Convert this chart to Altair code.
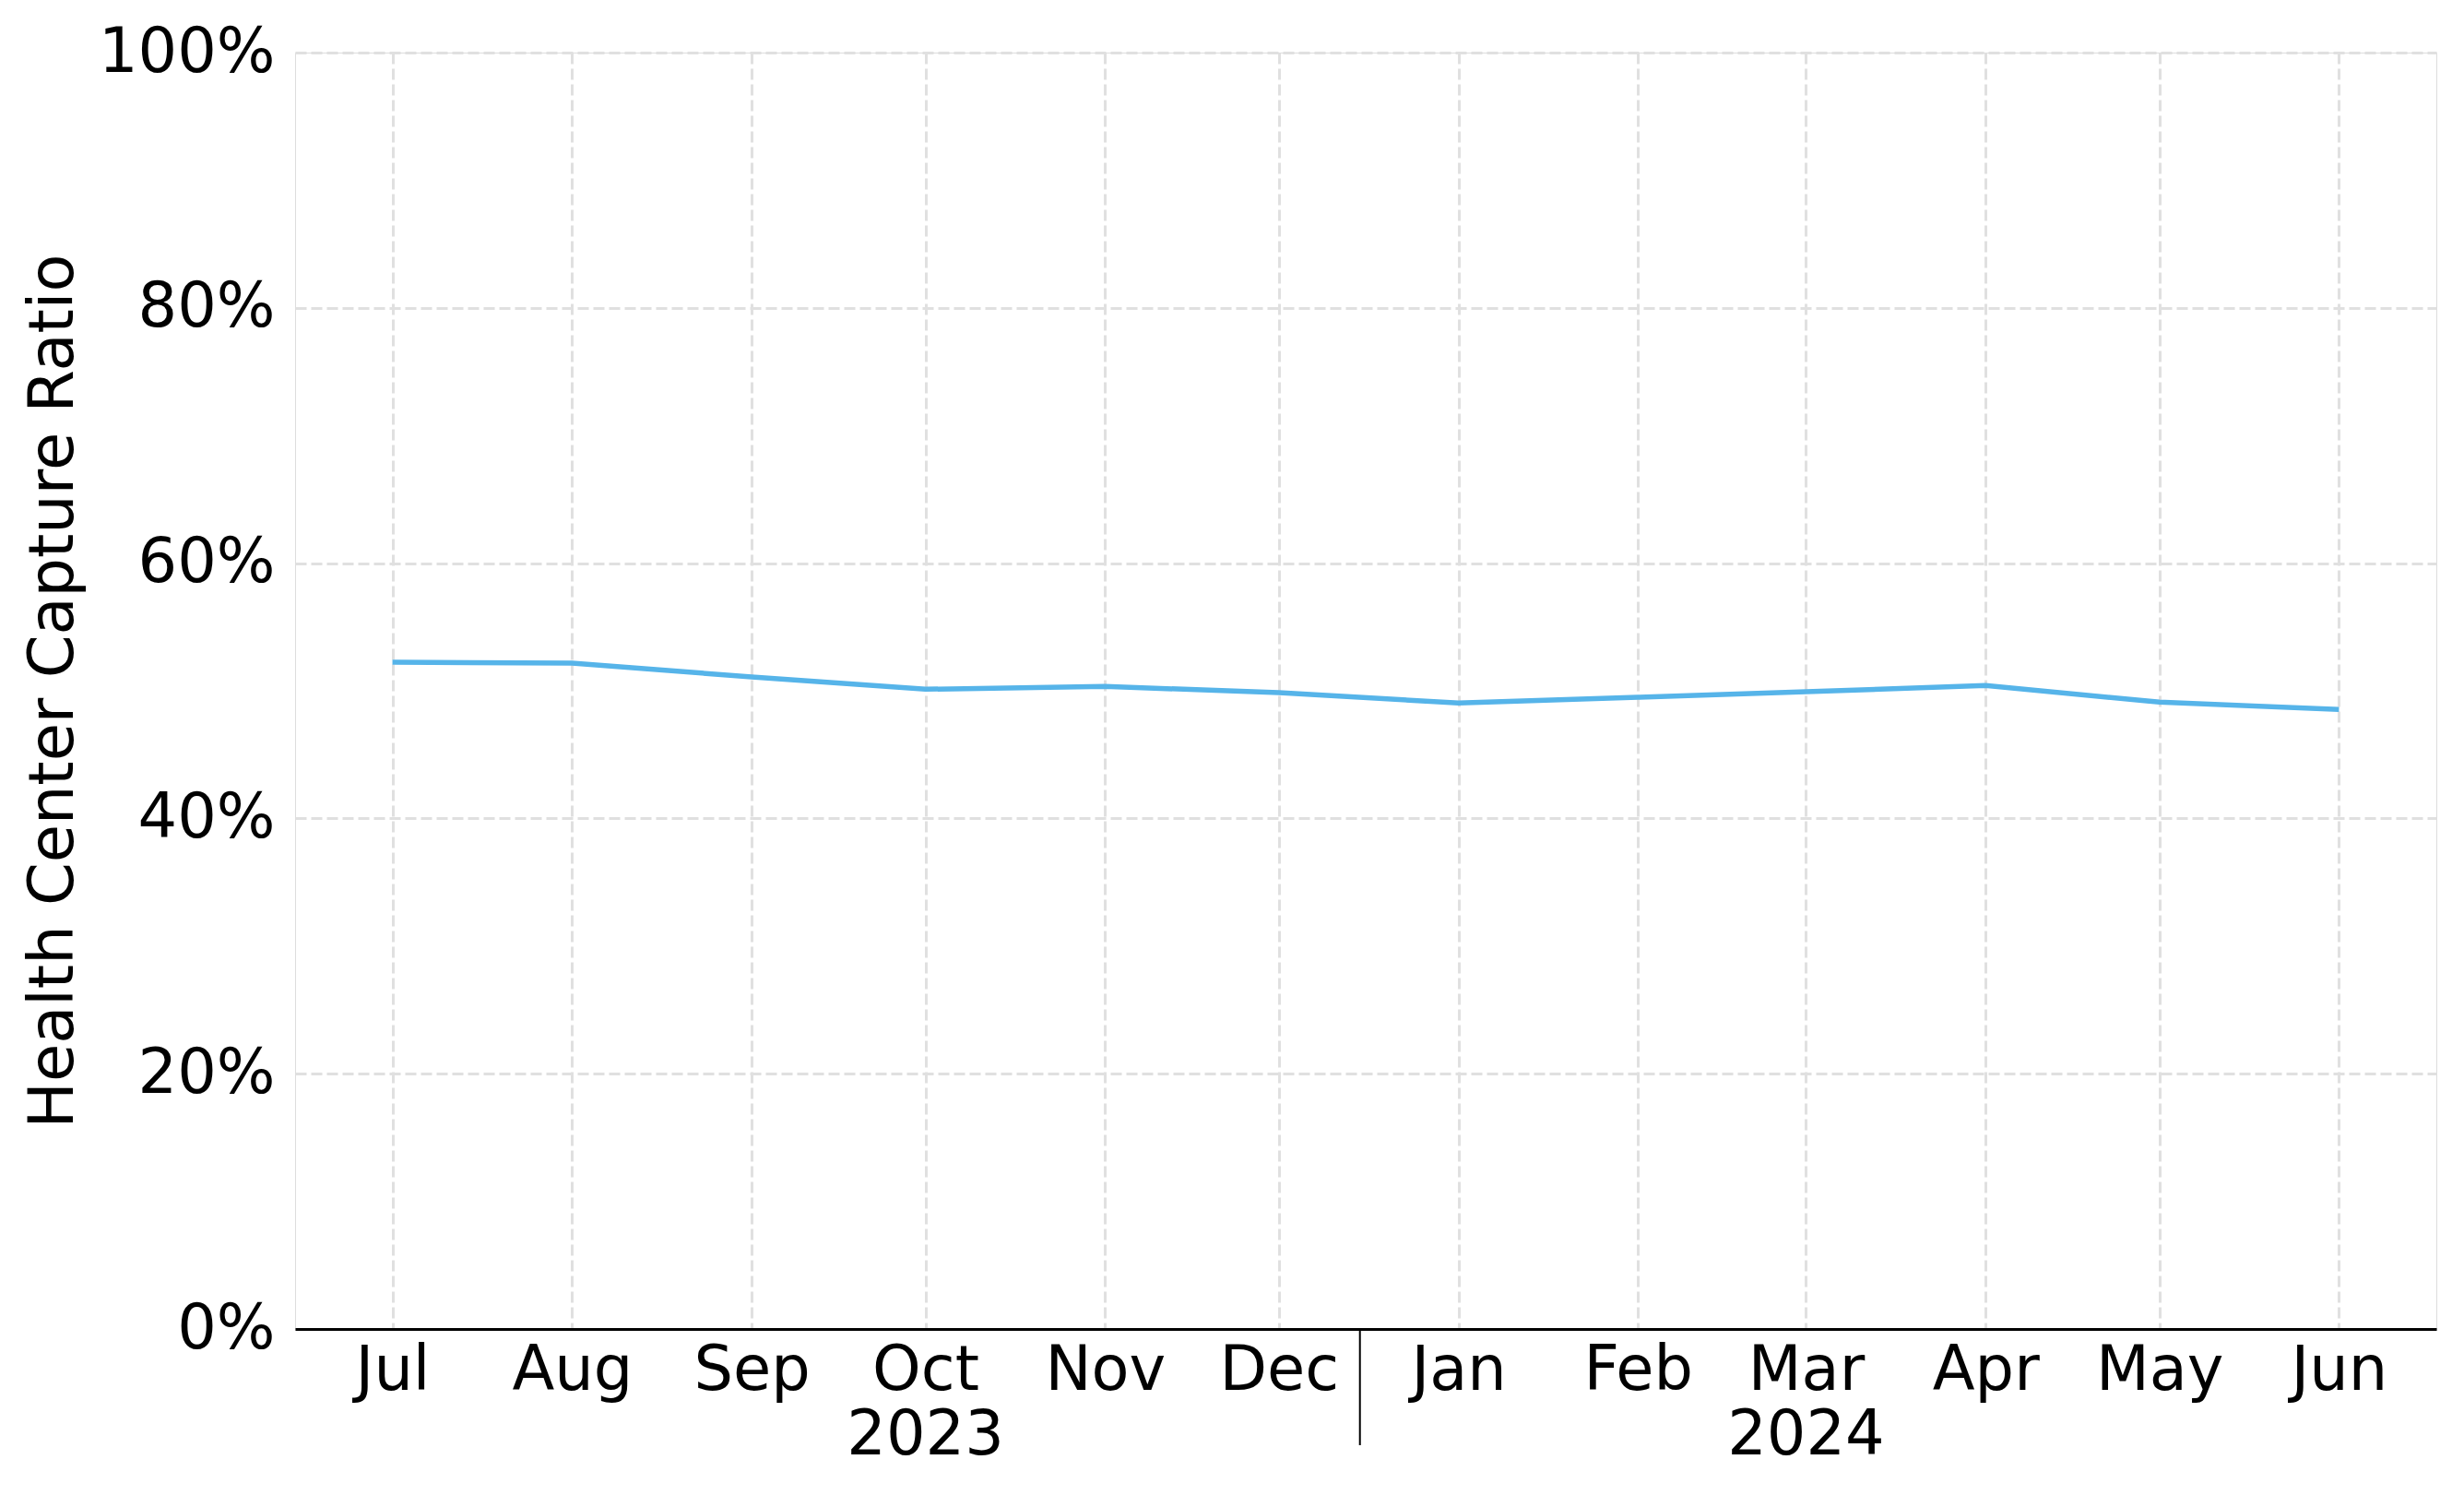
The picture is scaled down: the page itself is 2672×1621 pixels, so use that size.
import altair as alt
import pandas as pd

# Data
months = ["2023-07-01", "2023-08-01", "2023-09-01", "2023-10-01", "2023-11-01", "2023-12-01",
          "2024-01-01", "2024-02-01", "2024-03-01", "2024-04-01", "2024-05-01", "2024-06-01"]
capture_ratio = [0.5224, 0.5217, 0.5108, 0.5012, 0.5034, 0.4986,
                 0.4904, 0.4949, 0.4993, 0.5041, 0.4911, 0.4853]

year_labels = ["2023", "2024"]
year_label_dates = ["2023-10-01", "2024-03-01"]
separator_dates = ["2023-12-15"]

y_ticks = [0, 0.2, 0.4, 0.6, 0.8, 1.0]

FONT = "DejaVu Sans"
W, H = 2322, 1384

df = pd.DataFrame({"date": months, "ratio": capture_ratio})
years_df = pd.DataFrame({"date": year_label_dates, "label": year_labels})
sep_df = pd.DataFrame({"date": separator_dates})

def ms(s):
    return int(pd.Timestamp(s, tz="UTC").value // 10**6)

tick_vals = [ms(m) for m in months]
span = ms(months[-1]) - ms(months[0])
x_domain = [ms(months[0]) - span * 0.05, ms(months[-1]) + span * 0.05]

x_scale = alt.Scale(type="utc", domain=x_domain, nice=False)

line = alt.Chart(df).mark_line(color="#56B4E9", strokeWidth=5.5).encode(
    x=alt.X("date:T", scale=x_scale,
            axis=alt.Axis(values=tick_vals, format="%b", title=None,
                          labelFont=FONT, labelFontSize=67, labelColor="black",
                          labelPadding=12, tickSize=0, ticks=False,
                          domainColor="black", domainWidth=3,
                          grid=True, gridColor="#e0e0e0", gridWidth=3,
                          gridDash=[12, 5], labelFlush=False)),
    y=alt.Y("ratio:Q", scale=alt.Scale(domain=[0, 1], nice=False),
            axis=alt.Axis(values=y_ticks, format=".0%", title="Health Center Capture Ratio",
                          labelFont=FONT, labelFontSize=67, labelColor="black",
                          labelPadding=22, labelLimit=0, ticks=False, domain=False,
                          grid=True, gridColor="#e0e0e0", gridWidth=3, gridDash=[12, 5],
                          titleFont=FONT, titleFontSize=67, titleFontWeight="normal",
                          titleColor="black", titleAngle=-90, titleX=-262, titleY=H / 2,
                          titleAlign="center", titleBaseline="middle")),
)

years = alt.Chart(years_df).mark_text(
    font=FONT, fontSize=67, color="black", align="center", baseline="alphabetic"
).encode(
    x=alt.X("date:T", scale=x_scale),
    y=alt.value(H + 136),
    text="label:N",
)

sep = alt.Chart(sep_df).mark_rule(color="black", strokeWidth=2).encode(
    x=alt.X("date:T", scale=x_scale),
    y=alt.value(H),
    y2=alt.value(H + 126),
)

chart = alt.layer(line, years, sep).properties(
    width=W, height=H,
    autosize=alt.AutoSizeParams(type="none"),
    padding={"left": 312, "top": 49, "right": 20, "bottom": 200},
).configure_view(stroke=None).configure(background="white")

chart.save("out.html", embed_options={"renderer": "svg", "actions": False})
